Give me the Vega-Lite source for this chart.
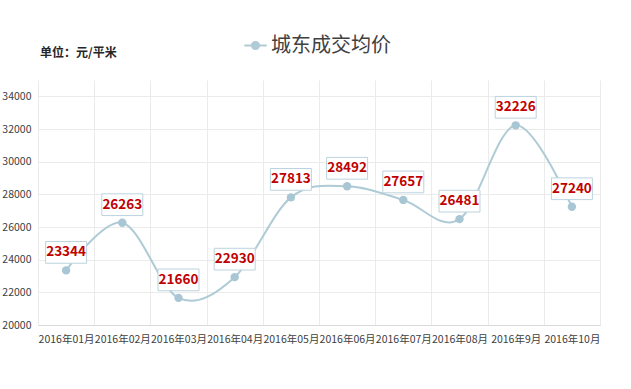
{
  "$schema": "https://vega.github.io/schema/vega-lite/v6.json",
  "autosize": {"type": "none"},
  "width": 562,
  "height": 245,
  "padding": {"left": 38, "top": 80, "right": 31, "bottom": 64},
  "background": "#ffffff",
  "title": {
    "text": "单位：元/平米",
    "anchor": "start",
    "frame": "group",
    "dx": 2,
    "dy": 27,
    "offset": 0,
    "fontSize": 12,
    "fontWeight": "bold",
    "font": "Noto Sans CJK SC",
    "color": "#262626"
  },
  "config": {
    "view": {"stroke": null},
    "font": "Noto Sans CJK SC"
  },
  "data": {
    "values": [
      {"month": "2016年01月", "price": 23344, "series": "城东成交均价"},
      {"month": "2016年02月", "price": 26263, "series": "城东成交均价"},
      {"month": "2016年03月", "price": 21660, "series": "城东成交均价"},
      {"month": "2016年04月", "price": 22930, "series": "城东成交均价"},
      {"month": "2016年05月", "price": 27813, "series": "城东成交均价"},
      {"month": "2016年06月", "price": 28492, "series": "城东成交均价"},
      {"month": "2016年07月", "price": 27657, "series": "城东成交均价"},
      {"month": "2016年08月", "price": 26481, "series": "城东成交均价"},
      {"month": "2016年9月", "price": 32226, "series": "城东成交均价"},
      {"month": "2016年10月", "price": 27240, "series": "城东成交均价"}
    ]
  },
  "encoding": {
    "x": {
      "field": "month",
      "type": "nominal",
      "sort": null,
      "scale": {"type": "band", "paddingInner": 0, "paddingOuter": 0},
      "axis": {
        "title": null,
        "labelAngle": 0,
        "tickBand": "extent",
        "grid": true,
        "gridColor": "#ebebeb",
        "gridWidth": 1,
        "ticks": false,
        "domainColor": "#d9d9d9",
        "labelFontSize": 10.5,
        "labelColor": "#404040",
        "labelPadding": 9,
        "labelFont": "Noto Sans CJK SC"
      }
    },
    "y": {
      "field": "price",
      "type": "quantitative",
      "scale": {"domain": [20000, 35000], "nice": false, "zero": false},
      "axis": {
        "title": null,
        "format": "d",
        "values": [20000, 22000, 24000, 26000, 28000, 30000, 32000, 34000],
        "grid": true,
        "gridColor": "#ebebeb",
        "ticks": false,
        "domain": false,
        "labelFontSize": 10.5,
        "labelColor": "#404040",
        "labelPadding": 7,
        "labelFont": "Noto Sans CJK SC"
      }
    }
  },
  "layer": [
    {
      "mark": {"type": "line", "interpolate": "cardinal", "strokeWidth": 2},
      "encoding": {
        "color": {
          "field": "series",
          "type": "nominal",
          "scale": {"range": ["#aecbd6"]},
          "legend": {
            "title": null,
            "orient": "none",
            "legendX": 205,
            "legendY": -47,
            "symbolType": "M-1,0H-0.32M0.32,0H1M0.32,0A0.32,0.32 0 1 1 -0.32,0A0.32,0.32 0 1 1 0.32,0",
            "symbolSize": 500,
            "symbolStrokeWidth": 2,
            "symbolFillColor": "#aecbd6",
            "labelFontSize": 20,
            "labelColor": "#404040",
            "labelFont": "Noto Sans CJK SC",
            "labelOffset": 3
          }
        }
      }
    },
    {
      "mark": {"type": "point", "shape": "circle", "filled": true, "size": 70, "color": "#a8c6d3", "opacity": 1}
    },
    {
      "mark": {
        "type": "point",
        "shape": "M-1,-0.53H1V0.53H-1Z",
        "size": 1680,
        "filled": true,
        "fill": "#ffffff",
        "stroke": "#bcd3dd",
        "strokeWidth": 1,
        "opacity": 1,
        "fillOpacity": 1,
        "yOffset": -18
      }
    },
    {
      "mark": {
        "type": "text",
        "dy": -18,
        "baseline": "middle",
        "align": "center",
        "fontSize": 13.5,
        "fontWeight": "bold",
        "color": "#c00000",
        "font": "Noto Sans CJK SC"
      },
      "encoding": {"text": {"field": "price", "type": "quantitative", "format": "d"}}
    }
  ]
}
